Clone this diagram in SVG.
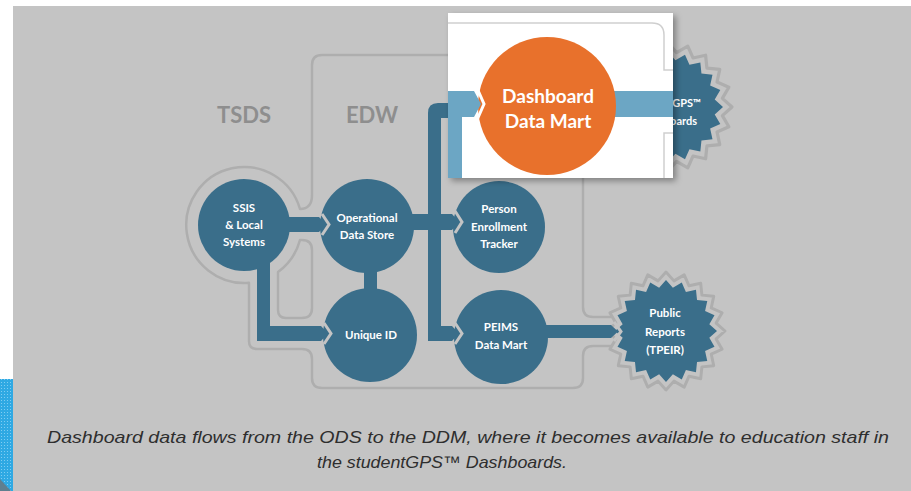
<svg xmlns="http://www.w3.org/2000/svg" xmlns:xlink="http://www.w3.org/1999/xlink" width="911" height="491" viewBox="0 0 911 491">
<style>
.node{fill:#3a6e8a}
.lbl{font-family:Lato,"Liberation Sans",sans-serif;font-weight:bold;fill:#ffffff;text-anchor:middle}
.sm{font-size:11.5px}
.halo{fill:none;stroke:#aeaeae;stroke-width:2.5;stroke-linejoin:round}
.gap{fill:none;stroke:#c4c4c4;stroke-width:3}
.bar{fill:#3a6e8a}
.hi{fill:#6ca6c4}
.zone{font-family:Lato,"Liberation Sans",sans-serif;font-weight:bold;font-size:22px;fill:#8e8e8e;text-anchor:middle}
.cap{font-family:"Liberation Sans",Arial,sans-serif;font-style:italic;font-size:17px;fill:#2e2e2e;text-anchor:middle}
</style>
<defs>
<polygon id="star" points="50,0 42.47,6.73 47.55,15.45 38.31,19.52 40.45,29.39 30.41,30.41 29.39,40.45 19.52,38.31 15.45,47.55 6.73,42.47 0,50 -6.73,42.47 -15.45,47.55 -19.52,38.31 -29.39,40.45 -30.41,30.41 -40.45,29.39 -38.31,19.52 -47.55,15.45 -42.47,6.73 -50,0 -42.47,-6.73 -47.55,-15.45 -38.31,-19.52 -40.45,-29.39 -30.41,-30.41 -29.39,-40.45 -19.52,-38.31 -15.45,-47.55 -6.73,-42.47 0,-50 6.73,-42.47 15.45,-47.55 19.52,-38.31 29.39,-40.45 30.41,-30.41 40.45,-29.39 38.31,-19.52 47.55,-15.45 42.47,-6.73"/>
<pattern id="dots" width="3" height="3" patternUnits="userSpaceOnUse">
<rect width="3" height="3" fill="#2fa9e3"/>
<rect x="1" y="1" width="1" height="1" fill="#7fcdf2"/>
</pattern>
<filter id="shadow" x="-10%" y="-10%" width="125%" height="130%">
<feDropShadow dx="3" dy="3" stdDeviation="3" flood-color="#000" flood-opacity="0.35"/>
</filter>
</defs>

<rect width="911" height="491" fill="#ffffff"/>
<rect x="13" y="6" width="898" height="485" fill="#c4c4c4"/>
<rect x="0" y="379" width="13" height="112" fill="url(#dots)"/>
<polygon points="0,479 11,491 0,491" fill="#5f7f8f"/>

<g id="zones">
<path class="halo" d="M448,55 H322 Q312,55 312,65 V195 Q312,209 300,209 A58,58 0 1 0 249,282.8 V341 Q249,349 257,349 H302 Q312,349 312,359 V378 Q312,388 322,388 H573 Q583,388 583,378 V356 Q583,346 593,346 H612"/>
<path class="halo" d="M300,240 A58,58 0 0 1 278,272 V310 Q278,318 286,318 H302 Q312,318 312,308 V250 Q312,240 302,240 Z"/>
<path class="halo" d="M612,317 H593 Q583,317 583,307 V178"/>
<text class="zone" x="244" y="123">TSDS</text>
<text class="zone" x="372" y="123">EDW</text>
</g>

<g id="node-gps">
<use xlink:href="#star" href="#star" class="halo" transform="translate(668,107) scale(1.28)" style="vector-effect:non-scaling-stroke"/>
<use xlink:href="#star" href="#star" class="node" transform="translate(668,107) scale(1.1)"/>
<text class="lbl" style="font-size:11px" x="668" y="107">studentGPS™</text>
<text class="lbl" style="font-size:11px" x="668" y="125">Dashboards</text>
</g>

<g id="node-ssis">
<circle class="node" cx="244" cy="225" r="46"/>
<text class="lbl sm" x="244" y="212">SSIS</text>
<text class="lbl sm" x="244" y="229">&amp; Local</text>
<text class="lbl sm" x="244" y="246">Systems</text>
</g>
<g id="node-ods">
<circle class="node" cx="367" cy="226" r="47"/>
<text class="lbl sm" x="367" y="222">Operational</text>
<text class="lbl sm" x="367" y="239">Data Store</text>
</g>
<g id="node-uid">
<circle class="node" cx="370" cy="335" r="47"/>
<text class="lbl sm" x="371" y="339">Unique ID</text>
</g>
<g id="node-pet">
<circle class="node" cx="499" cy="227" r="46"/>
<text class="lbl sm" x="499" y="213">Person</text>
<text class="lbl sm" x="499" y="231">Enrollment</text>
<text class="lbl sm" x="499" y="248">Tracker</text>
</g>
<g id="node-peims">
<circle class="node" cx="501" cy="337" r="47"/>
<text class="lbl sm" x="501" y="331">PEIMS</text>
<text class="lbl sm" x="501" y="349">Data Mart</text>
</g>
<g id="node-public">
<use xlink:href="#star" href="#star" class="halo" transform="translate(666,331) scale(1.18)" style="vector-effect:non-scaling-stroke"/>
<use xlink:href="#star" href="#star" class="node" transform="translate(666,331) scale(1.02)"/>
<text class="lbl sm" x="665" y="317">Public</text>
<text class="lbl sm" x="665" y="336">Reports</text>
<text class="lbl sm" x="665" y="354">(TPEIR)</text>
</g>

<g id="connectors">
<polyline class="gap" points="322,214 329,224.5 322,235"/>
<path class="bar" d="M285,217 H319 L326,224.5 L319,232 H285 Z"/>
<polyline class="gap" points="324,323 331,333.5 324,344"/>
<path class="bar" d="M257,262 V341 H321 L328,333.5 L321,326 H270 V262 Z"/>
<rect class="bar" x="364" y="266" width="13" height="28"/>
<polyline class="gap" points="455,211 462,222 455,233"/>
<path class="bar" d="M410,214 H452 L459,222 L452,230 H410 Z"/>
<polyline class="gap" points="455,323 462,333.5 455,344"/>
<path class="bar" d="M428,113 Q428,103 438,103 H452 V118 H441 V326 H452 L459,333.5 L452,341 H428 Z"/>
<polyline class="gap" points="614,322 621,331.5 614,341"/>
<path class="bar" d="M545,325 H611 L618,331.5 L611,338 H545 Z"/>
</g>

<g id="callout">
<rect x="448" y="13" width="225" height="165" fill="#ffffff" filter="url(#shadow)"/>
<path d="M448,23 H652 Q664,23 664,35 V70 H673 M673,133 H664 V178" fill="none" stroke="#cfcfcf" stroke-width="1.5"/>
<rect class="hi" x="600" y="91" width="73" height="26"/>
<g id="node-ddm">
<circle cx="547" cy="106" r="69" fill="#e8712c"/>
<polyline points="477,88 484,104 477,120" fill="none" stroke="#ffffff" stroke-width="3"/>
<path class="hi" d="M448,178 V91 H474 L481,104 L474,117 H462 V178 Z"/>
<text class="lbl" style="font-size:19px" x="548" y="103">Dashboard</text>
<text class="lbl" style="font-size:19px" x="548" y="128">Data Mart</text>
</g>
</g>

<g id="caption">
<text class="cap" x="468" y="443" textLength="842" lengthAdjust="spacingAndGlyphs">Dashboard data flows from the ODS to the DDM, where it becomes available to education staff in</text>
<text class="cap" x="442" y="468" textLength="250" lengthAdjust="spacingAndGlyphs">the studentGPS™ Dashboards.</text>
</g>
</svg>
